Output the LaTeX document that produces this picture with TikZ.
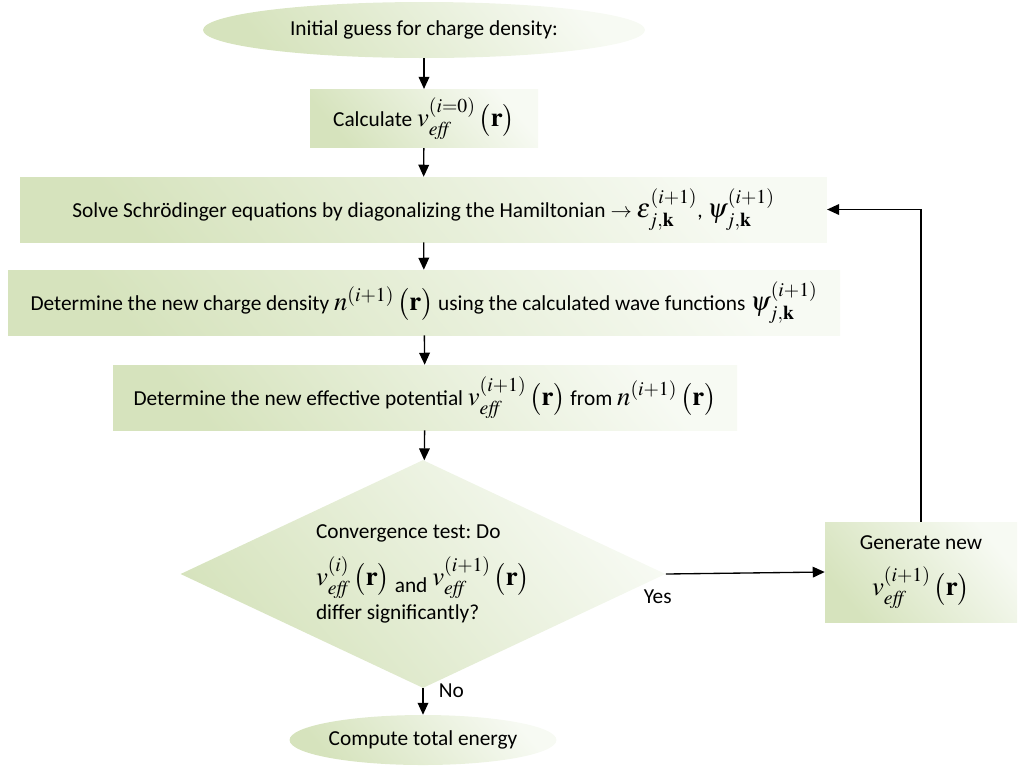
\documentclass[tikz,border=0pt]{standalone}
\usepackage{amsmath}
\usepackage{mathptmx}
\usepackage{fontspec}
\setmainfont{Carlito}
\usetikzlibrary{shapes.geometric,arrows.meta}
\frenchspacing

\definecolor{gDark}{RGB}{214,227,189}
\definecolor{gLight}{RGB}{247,250,243}

% larger math, as in the boxes
\newcommand*{\mth}[1]{{\fontsize{20}{24}\selectfont$#1$}}
\newcommand*{\veff}[1]{\mth{v_{\mathit{eff}}^{(#1)}\,\bigl(\mathbf{r}\bigr)}}
\newcommand*{\nnew}{\mth{n^{(i+1)}\,\bigl(\mathbf{r}\bigr)}}
\newcommand*{\psinew}{\mth{\psi_{j,\mathbf{k}}^{(i+1)}}}

\begin{document}
\begin{tikzpicture}
[
	x=0.75pt, y=-0.75pt,
	font=\fontsize{16}{19}\selectfont,
	greenfill/.style={top color=gLight, bottom color=gDark, shading angle=-50},
	procbox/.style={rectangle, greenfill, inner sep=0pt, align=center},
	termnode/.style={ellipse, greenfill, inner sep=0pt, align=center},
	decision/.style={diamond, aspect=2.1, greenfill, inner sep=0pt, align=left},
	flow/.style={-{Triangle[length=9pt,width=8pt]}, line width=1pt}
]

	\useasboundingbox (0,0) rectangle (1019,769);

	% main column
	\node[termnode, minimum width=331.5pt, minimum height=42pt] (start) at (424,30) {Initial guess for charge density:};
	\node[procbox, minimum width=171pt, minimum height=44pt] (calc) at (424,118.5) {Calculate \veff{i=0}};
	\node[procbox, minimum width=605pt, minimum height=48.75pt] (solve) at (423.5,209.5)
		{Solve Schrödinger equations by diagonalizing the Hamiltonian $\boldsymbol{\rightarrow}$ \mth{\varepsilon_{j,\mathbf{k}}^{(i+1)}}, \psinew};
	\node[procbox, minimum width=624pt, minimum height=48.75pt] (dens) at (424,302.5)
		{Determine the new charge density \nnew{} using the calculated wave functions \psinew};
	\node[procbox, minimum width=468pt, minimum height=48.75pt] (pot) at (425,397.5)
		{Determine the new effective potential \veff{i+1} from \nnew};

	% test and the loop back
	\node[decision, minimum width=363.75pt, minimum height=171pt] (test) at (423,574)
		{Convergence test: Do\\[10pt] \veff{i} \raisebox{-5pt}{and} \veff{i+1}\\[4pt] differ significantly?};
	\node[procbox, minimum width=144pt, minimum height=75pt] (gen) at (921,572)
		{Generate new\\[12pt] \veff{i+1}};
	\node[termnode, minimum width=188pt, minimum height=37.5pt] (stop) at (423,740) {Compute total energy};

	% connectors
	\draw[flow] (start) -- (calc);
	\draw[flow] (calc) -- (solve);
	\draw[flow] (solve) -- (dens);
	\draw[flow] (dens) -- (pot);
	\draw[flow] (pot) -- (test);
	\draw[flow] (test.east) -- node[pos=0, below=8pt, xshift=-6pt] {Yes} (gen.west);
	\draw[flow] (gen.north) |- (solve.east);
	\draw[flow] (test.south) -- node[pos=0.1, right=8pt] {No} (stop.north);

\end{tikzpicture}
\end{document}
